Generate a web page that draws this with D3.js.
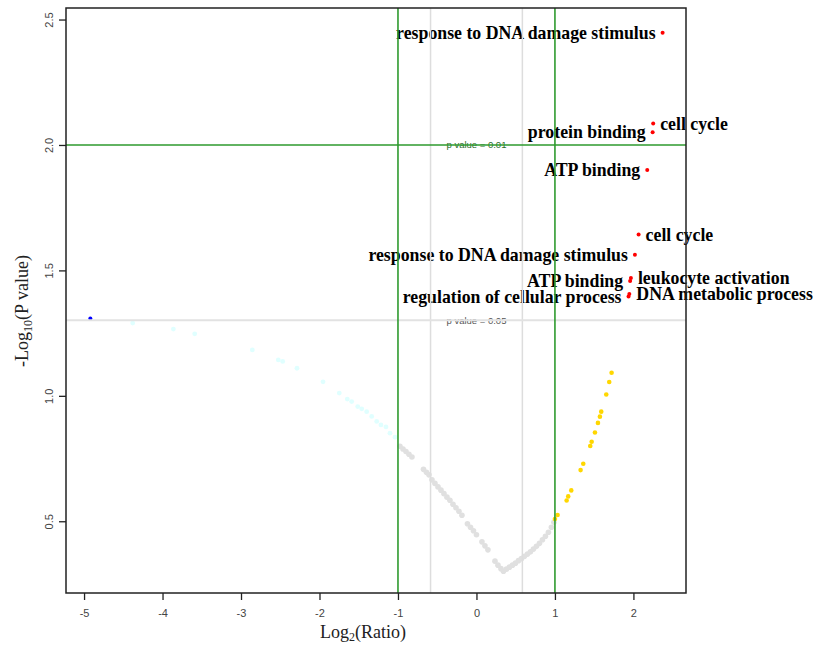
<html>
<head>
<meta charset="utf-8">
<script src="https://cdn.jsdelivr.net/npm/d3@7"></script>
<style>
  body { margin: 0; background: #fff; }
</style>
</head>
<body>
<div id="chart"></div>
<script type="text/javascript">

// values: log2(ratio) and -log10(p)
const blueX = [-4.92], blueY = [1.308];

const cyanX = [-4.380, -3.862, -3.590, -2.856, -2.525, -2.469, -2.287, -1.955, -1.748, -1.646, -1.590, -1.513, -1.462, -1.399, -1.335, -1.271, -1.217, -1.153, -1.102, -1.038];
const cyanY = [1.290, 1.266, 1.247, 1.183, 1.143, 1.137, 1.110, 1.056, 1.011, 0.987, 0.977, 0.957, 0.948, 0.937, 0.918, 0.898, 0.884, 0.876, 0.851, 0.835];

const grayX = [-0.975, -0.936, -0.898, -0.860, -0.822, -0.675, -0.637, -0.605, -0.567, -0.529, -0.490, -0.452, -0.414, -0.376, -0.338,
               -0.299, -0.261, -0.223, -0.185, -0.115, -0.076, -0.038, 0.000, 0.070, 0.108, 0.146, 0.236, 0.274, 0.312, 0.344,
               0.382, 0.420, 0.459, 0.497, 0.535, 0.573, 0.611, 0.650, 0.688, 0.726, 0.764, 0.803, 0.841, 0.879, 0.917, 0.955, 0.987];
const grayY = [0.799, 0.788, 0.778, 0.767, 0.756, 0.707, 0.695, 0.685, 0.665, 0.651, 0.637, 0.624, 0.610, 0.596, 0.584,
               0.568, 0.554, 0.540, 0.524, 0.490, 0.476, 0.462, 0.446, 0.418, 0.402, 0.386, 0.341, 0.325, 0.311, 0.301,
               0.309, 0.317, 0.325, 0.333, 0.343, 0.351, 0.360, 0.369, 0.378, 0.389, 0.400, 0.412, 0.426, 0.440, 0.456, 0.476, 0.496];

const yellowX = [1.000, 1.034, 1.149, 1.169, 1.208, 1.327, 1.361, 1.450, 1.468, 1.510, 1.548, 1.573, 1.590, 1.654, 1.692, 1.722];
const yellowY = [0.509, 0.525, 0.583, 0.599, 0.623, 0.704, 0.729, 0.800, 0.817, 0.854, 0.892, 0.917, 0.937, 1.005, 1.055, 1.092];

const redTerms = ["response to DNA damage stimulus", "cell cycle", "protein binding", "ATP binding", "cell cycle",
                  "response to DNA damage stimulus", "leukocyte activation", "ATP binding", "DNA metabolic process", "regulation of cellular process"];
const redX = [2.372, 2.252, 2.245, 2.176, 2.066, 2.019, 1.968, 1.958, 1.948, 1.938];
const redY = [2.447, 2.086, 2.051, 1.900, 1.643, 1.562, 1.470, 1.458, 1.406, 1.396];
const redSide = ["left", "right", "left", "left", "right", "left", "right", "left", "right", "left"];

const xTicks = [-5, -4, -3, -2, -1, 0, 1, 2];
const yTicks = [0.5, 1.0, 1.5, 2.0, 2.5];

const foldCut = [-1, 1];
const foldSoft = [-0.585, 0.585];
const pCuts = [{ v: 2, label: "p value = 0.01" }, { v: 1.301, label: "p value = 0.05" }];

// ---------------------------------------------------------------

const W = 813, H = 646;
const pL = 66, pR = 686, pT = 8, pB = 593;

const svg = d3.select("#chart").append("svg")
    .attr("width", W).attr("height", H);

const x = d3.scaleLinear().domain([-5.23, 2.67]).range([pL, pR]);
const y = d3.scaleLinear().domain([0.214, 2.546]).range([pB, pT]);

const pts = (xs, ys) => xs.map((v, i) => ({ x: v, y: ys[i] }));

// points
function dots(data, color, r) {
    svg.append("g").selectAll("circle").data(data).enter().append("circle")
        .attr("cx", d => x(d.x)).attr("cy", d => y(d.y))
        .attr("r", r).attr("fill", color);
}
dots(pts(cyanX, cyanY), "#e0ffff", 2.4);
dots(pts(grayX, grayY), "#e0e0e0", 2.8);
dots(pts(yellowX, yellowY), "#ffd700", 2.3);
dots(pts(blueX, blueY), "#0000ff", 2);
dots(pts(redX, redY), "#ff0000", 2);

// term labels
const red = redTerms.map((t, i) => ({ t: t, x: redX[i], y: redY[i], side: redSide[i] }));
svg.append("g").selectAll("text").data(red).enter().append("text")
    .attr("x", d => x(d.x) + (d.side == "left" ? -7 : 7))
    .attr("y", d => y(d.y))
    .attr("dy", "0.35em")
    .attr("text-anchor", d => d.side == "left" ? "end" : "start")
    .style("font-family", "'Liberation Serif', 'Times New Roman', serif")
    .style("font-weight", "bold")
    .style("font-size", "17.8px")
    .style("fill", "#000")
    .text(d => d.t);

// p value captions
svg.append("g").selectAll("text").data(pCuts).enter().append("text")
    .attr("x", x(0)).attr("y", d => y(d.v)).attr("dy", "0.35em")
    .attr("text-anchor", "middle")
    .style("font-family", "'Liberation Sans', Arial, sans-serif")
    .style("font-size", "9.5px")
    .style("fill", (d, i) => i == 0 ? "#2d6b2d" : "#555")
    .text(d => d.label);

// cut-off lines
const lines = svg.append("g");
lines.selectAll(".soft").data(foldSoft).enter().append("line")
    .attr("x1", d => x(d)).attr("x2", d => x(d)).attr("y1", pT).attr("y2", pB)
    .attr("stroke", "#dddddd").attr("stroke-width", 1.5);
lines.append("line")
    .attr("x1", pL).attr("x2", pR).attr("y1", y(pCuts[1].v)).attr("y2", y(pCuts[1].v))
    .attr("stroke", "#e2e2e2").attr("stroke-width", 2);
lines.selectAll(".hard").data(foldCut).enter().append("line")
    .attr("x1", d => x(d)).attr("x2", d => x(d)).attr("y1", pT).attr("y2", pB)
    .attr("stroke", "#2e9a2e").attr("stroke-width", 1.6);
lines.append("line")
    .attr("x1", pL).attr("x2", pR).attr("y1", y(pCuts[0].v)).attr("y2", y(pCuts[0].v))
    .attr("stroke", "#2e9a2e").attr("stroke-width", 1.6);

// box
svg.append("rect")
    .attr("x", pL).attr("y", pT).attr("width", pR - pL).attr("height", pB - pT)
    .attr("fill", "none").attr("stroke", "#222").attr("stroke-width", 1.5);

// axes (plain hyphen for negatives, like the original)
const xAxis = svg.append("g").attr("transform", `translate(0,${pB})`)
    .call(d3.axisBottom(x).tickValues(xTicks).tickSize(7).tickPadding(9).tickFormat(d => String(d)));
const yAxis = svg.append("g").attr("transform", `translate(${pL},0)`)
    .call(d3.axisLeft(y).tickValues(yTicks).tickSize(7).tickFormat(d => d.toFixed(1)));
[xAxis, yAxis].forEach(a => {
    a.select(".domain").remove();
    a.selectAll(".tick line").attr("stroke", "#222").attr("stroke-width", 1.3);
    a.selectAll(".tick text")
        .style("font-family", "'Liberation Sans', Arial, sans-serif")
        .style("font-size", "11px").style("fill", "#444");
});
yAxis.selectAll(".tick text")
    .attr("x", null).attr("dy", null)
    .attr("transform", "translate(-17,0) rotate(-90)")
    .attr("text-anchor", "middle").attr("dominant-baseline", "central");

// axis titles
const serif = "'Liberation Serif', 'Times New Roman', serif";
const xt = svg.append("text").attr("x", 363).attr("y", 638)
    .attr("text-anchor", "middle")
    .style("font-family", serif).style("font-size", "18px").style("fill", "#222");
xt.append("tspan").text("Log");
xt.append("tspan").attr("dy", 3).style("font-size", "12px").text("2");
xt.append("tspan").attr("dy", -3).text("(Ratio)");

const yt = svg.append("text")
    .attr("transform", "translate(28,311) rotate(-90)")
    .attr("text-anchor", "middle")
    .style("font-family", serif).style("font-size", "18px").style("fill", "#222");
yt.append("tspan").text("-Log");
yt.append("tspan").attr("dy", 4).style("font-size", "12px").text("10");
yt.append("tspan").attr("dy", -4).text("(P value)");

</script>
</body>
</html>
